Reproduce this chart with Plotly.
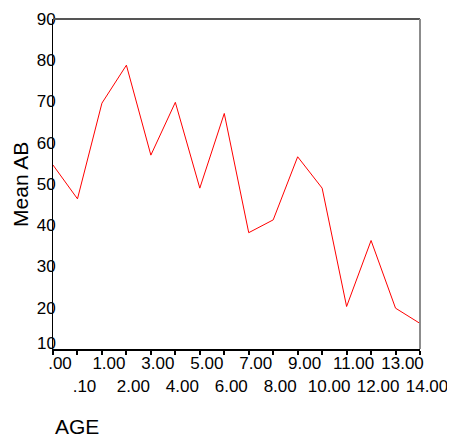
import plotly.graph_objects as go

categories = [".00", ".10", "1.00", "2.00", "3.00", "4.00", "5.00", "6.00",
              "7.00", "8.00", "9.00", "10.00", "11.00", "12.00", "13.00", "14.00"]
mean_ab = [54.6, 46.4, 69.6, 78.8, 57.0, 69.8, 49.0, 67.1,
           38.2, 41.3, 56.6, 49.0, 20.3, 36.3, 19.9, 16.2]
y_ticks = [10, 20, 30, 40, 50, 60, 70, 80, 90]

# alternate tick labels between two rows
tick_text = [c if i % 2 == 0 else "<br>" + c for i, c in enumerate(categories)]

FONT = "Liberation Sans, Arial, sans-serif"

fig = go.Figure()
fig.add_trace(go.Scatter(
    x=categories, y=mean_ab, mode="lines",
    line=dict(color="#ff0000", width=1),
    showlegend=False, hoverinfo="skip",
))

# page body has an 8px margin, so the figure is 8px smaller and shifted
fig.update_layout(
    width=447, height=429,
    margin=dict(l=45, r=35, t=11, b=88, autoexpand=False),
    paper_bgcolor="white", plot_bgcolor="white",
    font=dict(family=FONT, size=17, color="black"),
    xaxis=dict(
        type="category", range=[0, 15], automargin=False,
        tickmode="array", tickvals=categories, ticktext=tick_text,
        showgrid=False, zeroline=False,
        showline=True, linecolor="black", linewidth=2,
        ticks="outside", ticklen=4, tickwidth=2, tickcolor="black",
        tickangle=0, ticklabelshift=7, ticklabelstandoff=-6,
        tickfont=dict(family=FONT, size=17, color="black"),
    ),
    yaxis=dict(
        range=[10, 90], tickmode="array", tickvals=y_ticks[1:], automargin=False,
        showgrid=False, zeroline=False,
        showline=True, linecolor="black", linewidth=1,
        ticks="", ticklabelstandoff=-7,
        tickfont=dict(family=FONT, size=17, color="black"),
    ),
    shapes=[
        dict(type="line", xref="paper", yref="paper", x0=0, x1=1, y0=1, y1=1,
             line=dict(color="#555555", width=2)),
        dict(type="line", xref="paper", yref="paper", x0=1, x1=1, y0=0, y1=1,
             line=dict(color="#8c8c8c", width=2)),
        dict(type="line", xref="paper", yref="paper",
             x0=(454 - 53) / 367, x1=(454 - 53) / 367,
             y0=(349 - 277) / 330, y1=(349 - 341) / 330,
             line=dict(color="#bdbdbd", width=3)),
    ],
    annotations=[
        # lowest y tick label, nudged up as in the original
        dict(text=str(y_ticks[0]), xref="paper", yref="y", x=0, y=y_ticks[0],
             xanchor="right", yanchor="middle", xshift=5, yshift=6,
             showarrow=False, font=dict(family=FONT, size=17, color="black")),
        dict(text="Mean AB", xref="paper", yref="paper", x=-0.09, y=0.5,
             xanchor="center", yanchor="middle", textangle=-90, showarrow=False,
             font=dict(family=FONT, size=21, color="black")),
        dict(text="AGE", xref="paper", yref="paper", x=0, y=-0.236,
             xanchor="left", yanchor="middle", showarrow=False,
             font=dict(family=FONT, size=21, color="black")),
    ],
)

fig.write_html("out.html")
